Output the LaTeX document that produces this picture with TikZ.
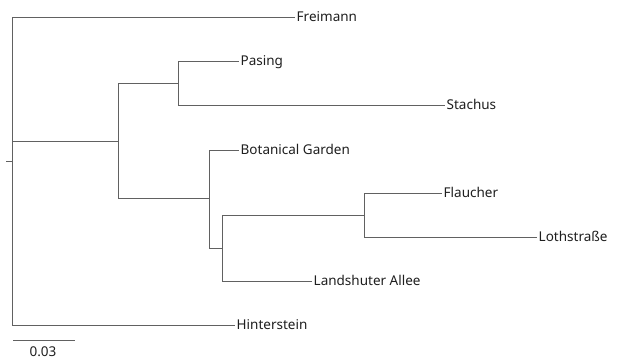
\documentclass[tikz,border=0pt]{standalone}
\usepackage{fontspec}
\setmainfont{Noto Sans}
\begin{document}
\begin{tikzpicture}[x=1pt,y=-1pt,
  edge/.style={draw=black!62,line width=0.9pt},
  leaf/.style={anchor=west,inner sep=1.5pt,text=black!88,font=\fontsize{13.5}{14}\selectfont,text height=9.5pt,text depth=0pt}]
\useasboundingbox[fill=white] (0,0) rectangle (617,360);
% internal nodes
\coordinate (root) at (12,161);
\coordinate (rootstub) at (6,161);
\coordinate (n1) at (118,141);
\coordinate (n2) at (178,83);
\coordinate (n3) at (209,198);
\coordinate (n4) at (222,248);
\coordinate (n5) at (364,215);
% leaves
\node[leaf] (freimann) at (295,17) {Freimann};
\node[leaf] (pasing) at (239,61) {Pasing};
\node[leaf] (stachus) at (445,105) {Stachus};
\node[leaf] (botanical) at (239,150) {Botanical Garden};
\node[leaf] (flaucher) at (442,193) {Flaucher};
\node[leaf] (loth) at (537,237) {Lothstraße};
\node[leaf] (landshuter) at (312,281) {Landshuter Allee};
\node[leaf] (hinterstein) at (235,325) {Hinterstein};
% edges
\draw[edge] (rootstub) -- (root);
\draw[edge] (root) |- (freimann.west);
\draw[edge] (root) |- (n1);
\draw[edge] (root) |- (hinterstein.west);
\draw[edge] (n1) |- (n2);
\draw[edge] (n1) |- (n3);
\draw[edge] (n2) |- (pasing.west);
\draw[edge] (n2) |- (stachus.west);
\draw[edge] (n3) |- (botanical.west);
\draw[edge] (n3) |- (n4);
\draw[edge] (n4) |- (n5);
\draw[edge] (n4) |- (landshuter.west);
\draw[edge] (n5) |- (flaucher.west);
\draw[edge] (n5) |- (loth.west);
% scale bar
\coordinate (sb1) at (13,340);
\coordinate (sb2) at (75,340);
\draw[edge] (sb1) -- (sb2);
\node[leaf,anchor=center] (sblabel) at (43,352) {0.03};
\end{tikzpicture}
\end{document}
